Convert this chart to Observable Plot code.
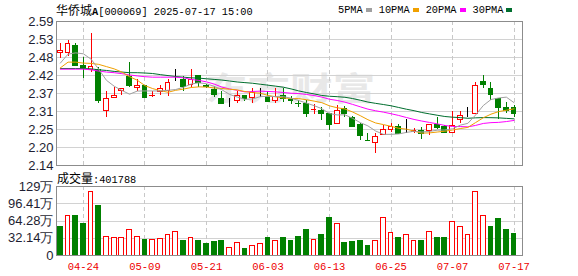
<!DOCTYPE html>
<html><head><meta charset="utf-8">
<script src="https://cdn.jsdelivr.net/npm/d3@7"></script>
<script src="https://cdn.jsdelivr.net/npm/@observablehq/plot@0.6"></script>
<style>
body{margin:0;background:#fff;}
#wrap{position:relative;width:578px;height:276px;overflow:hidden;font-family:"Liberation Sans",Arial,sans-serif;}
#wrap svg{position:absolute;left:0;}
.t{position:absolute;white-space:nowrap;color:#000;}
.cjk{font-family:"Noto Sans CJK SC",sans-serif;font-size:12px;}
.mono{font-family:"Liberation Mono",monospace;font-size:10.3px;}
#legend{position:absolute;left:338px;top:4px;display:flex;align-items:center;}
#legend .sw{display:inline-block;width:6px;height:4px;margin:0 7px 0 3px;}
#wm{position:absolute;left:205px;top:70px;font-family:"Noto Sans CJK SC",sans-serif;font-weight:700;font-size:32px;line-height:32px;color:#e8e8e8;transform:scaleX(1.33);transform-origin:left top;}
</style></head><body><div id="wrap"><div id="wm">东方财富</div></div><script>
// ---- data ----
const dates = ["04-21","04-22","04-23","04-24","04-25","04-28","04-29","04-30","05-06","05-07","05-08","05-09","05-12","05-13","05-14","05-15","05-16","05-19","05-20","05-21","05-22","05-23","05-26","05-27","05-28","05-29","05-30","06-03","06-04","06-05","06-06","06-09","06-10","06-11","06-12","06-13","06-16","06-17","06-18","06-19","06-20","06-23","06-24","06-25","06-26","06-27","06-30","07-01","07-02","07-03","07-04","07-07","07-08","07-09","07-10","07-11","07-14","07-15","07-16","07-17"];
const open = [2.491,2.491,2.512,2.45,2.438,2.437,2.31,2.352,2.374,2.418,
 2.382,2.39,2.356,2.371,2.372,2.402,2.408,2.393,2.421,2.39,
 2.377,2.348,2.335,2.343,2.358,2.352,2.368,2.354,2.342,2.356,
 2.344,2.332,2.331,2.312,2.31,2.3,2.27,2.318,2.289,2.268,
 2.217,2.21,2.234,2.252,2.26,2.24,2.244,2.249,2.247,2.268,
 2.26,2.242,2.283,2.297,2.3,2.4,2.38,2.348,2.32,2.32];
const high = [2.52,2.531,2.52,2.478,2.553,2.447,2.371,2.385,2.379,2.463,
 2.408,2.39,2.371,2.389,2.41,2.439,2.418,2.439,2.421,2.393,
 2.387,2.372,2.348,2.372,2.358,2.38,2.38,2.37,2.38,2.38,
 2.356,2.343,2.343,2.331,2.32,2.3,2.328,2.323,2.293,2.27,
 2.239,2.24,2.265,2.27,2.268,2.283,2.255,2.258,2.268,2.29,
 2.265,2.31,2.31,2.322,2.4,2.421,2.4,2.348,2.338,2.328];
const low = [2.473,2.481,2.45,2.411,2.432,2.333,2.291,2.352,2.359,2.383,
 2.372,2.35,2.352,2.36,2.357,2.402,2.372,2.385,2.385,2.382,
 2.351,2.33,2.322,2.335,2.341,2.333,2.352,2.337,2.333,2.337,
 2.331,2.321,2.291,2.3,2.281,2.25,2.27,2.291,2.258,2.218,
 2.216,2.178,2.234,2.244,2.238,2.24,2.239,2.22,2.234,2.252,
 2.239,2.239,2.27,2.291,2.3,2.38,2.343,2.283,2.302,2.291];
const close = [2.499,2.52,2.45,2.445,2.447,2.341,2.348,2.358,2.379,2.388,
 2.39,2.35,2.358,2.379,2.398,2.402,2.385,2.408,2.399,2.384,
 2.361,2.332,2.335,2.358,2.348,2.367,2.368,2.339,2.355,2.347,
 2.343,2.331,2.3,2.314,2.3,2.267,2.309,2.302,2.26,2.232,
 2.216,2.229,2.25,2.26,2.238,2.24,2.247,2.239,2.268,2.258,
 2.243,2.265,2.296,2.297,2.388,2.391,2.359,2.32,2.31,2.302];
const prevClose0 = 2.505;
const volume = [522000,745000,727000,584000,1192000,919000,354000,317000,317000,478000,
 354000,298000,298000,311000,391000,447000,267000,329000,279000,211000,
 248000,279000,149000,224000,112000,180000,205000,317000,261000,317000,
 279000,354000,484000,292000,373000,708000,578000,230000,248000,279000,
 186000,261000,702000,410000,335000,391000,261000,279000,447000,335000,
 317000,615000,540000,373000,1174000,727000,540000,671000,484000,401788];
// moving-average values before enough closes exist
const ma5Head = [2.460,2.488,2.492,2.489];
const ma10Head = [2.445,2.463,2.463,2.460,2.459,2.456,2.449,2.442,2.432];
const ma20Head = [2.441,2.441,2.441,2.441,2.439,2.435,2.432,2.430,2.427,2.423,2.420,2.4175,2.416,2.416,2.416,2.416,2.414,2.409,2.406];
const ma30Head = [2.443,2.443,2.443,2.443,2.442,2.439,2.437,2.434,2.432,2.430,2.430,2.429,2.4275,2.424,2.421,2.418,2.416,2.414,2.413,2.411,2.409,2.407,2.404,2.401,2.399,2.397,2.394,2.391,2.388];
const maNames = ["5PMA","10PMA","20PMA","30PMA"];
const maColors = ["#a0a0a0","#f0a000","#ff00ff","#006e2e"];
const tickDates = ["04-24","05-09","05-21","06-03","06-13","06-25","07-07","07-17"];
const priceDomain = [2.14, 2.59];
const priceTickLabels = ["2.14","2.20","2.25","2.31","2.37","2.42","2.48","2.53","2.59"];
const volTicks = [0, 321400, 642800, 964100, 1285600];
const volTickLabels = ["0","32.14万","64.28万","96.41万","129万"];
const stock = "华侨城A", code = "000069", stamp = "2025-07-17 15:00";

// ---- derived ----
const RED = "#ff0000", GREEN = "#008000", BLACK = "#000000";
function ma(k, head){ return close.map((_, i) => i < k-1 ? head[i] : d3.mean(close.slice(i-k+1, i+1))); }
const m5 = ma(5, ma5Head), m10 = ma(10, ma10Head), m20 = ma(20, ma20Head), m30 = ma(30, ma30Head);
const rows = dates.map((d, i) => {
  const c = close[i] > open[i] ? RED : close[i] < open[i] ? GREEN : BLACK;
  const pc = i === 0 ? prevClose0 : close[i-1];
  const vc = close[i] >= pc ? RED : GREEN;
  return {i, date: d, open: open[i], high: high[i], low: low[i], close: close[i], vol: volume[i],
    col: c, fillc: c === RED ? "#ffffff" : c, vcol: vc, vfill: vc === RED ? "#ffffff" : vc,
    m5: m5[i], m10: m10[i], m20: m20[i], m30: m30[i]};
});
const tickIdx = tickDates.map(d => dates.indexOf(d));
const priceTicks = d3.range(priceTickLabels.length).map(k => priceDomain[0] + k*(priceDomain[1]-priceDomain[0])/(priceTickLabels.length-1));
const pLab = new Map(priceTicks.map((t,k)=>[t, priceTickLabels[k]]));
const vLab = new Map(volTicks.map((t,k)=>[t, volTickLabels[k]]));
const xDomain = [-0.5, 60.1];
const bw = 0.31;
const crisp = {shapeRendering: "crispEdges"};
const gridH = {stroke: "#d2d2d2", ...crisp};
const gridV = {stroke: "#c8c8c8", strokeDasharray: "4,3", ...crisp};

const price = Plot.plot({
  width: 578, height: 176, marginTop: 21, marginBottom: 11, marginLeft: 56, marginRight: 56,
  x: {domain: xDomain, axis: null},
  y: {domain: priceDomain, axis: null},
  color: {type: "identity"},
  style: {background: "transparent", fontFamily: "Liberation Sans, Arial, sans-serif"},
  marks: [
    Plot.ruleY(priceTicks.slice(1, -1), gridH),
    Plot.ruleX(tickIdx, gridV),
    Plot.ruleX(rows, {x: "i", y1: "low", y2: "high", stroke: "col", ...crisp}),
    Plot.rect(rows, {x1: d => d.i - bw, x2: d => d.i + bw, y1: "open", y2: "close", fill: "fillc", stroke: "col", ...crisp}),
    Plot.line(rows, {x: "i", y: "m30", stroke: maColors[3], strokeWidth: 1}),
    Plot.line(rows, {x: "i", y: "m20", stroke: maColors[2], strokeWidth: 1}),
    Plot.line(rows, {x: "i", y: "m10", stroke: maColors[1], strokeWidth: 1}),
    Plot.line(rows, {x: "i", y: "m5", stroke: maColors[0], strokeWidth: 1}),
    Plot.frame({stroke: "#8c8c8c", ...crisp}),
    Plot.axisY(priceTicks, {tickSize: 0, tickPadding: 3, tickFormat: d => pLab.get(d), fontSize: 13, fill: "#1e1e32", label: null})
  ]
});
price.style.top = "0px";

const vol = Plot.plot({
  width: 578, height: 106, marginTop: 16, marginBottom: 21, marginLeft: 56, marginRight: 56,
  x: {domain: xDomain, axis: null},
  y: {domain: [0, volTicks[volTicks.length-1]], axis: null},
  color: {type: "identity"},
  style: {background: "transparent", fontFamily: "Liberation Sans, Arial, sans-serif"},
  marks: [
    Plot.ruleY(volTicks.slice(1, -1), gridH),
    Plot.ruleX(tickIdx, gridV),
    Plot.rect(rows, {x1: d => d.i - bw, x2: d => d.i + bw, y1: 0, y2: "vol", fill: "vfill", stroke: "vcol", ...crisp}),
    Plot.frame({stroke: "#8c8c8c", ...crisp}),
    Plot.axisY(volTicks, {tickSize: 0, tickPadding: 3, tickFormat: d => vLab.get(d), fontSize: 13, fill: "#1e1e32", label: null}),
    Plot.axisX(tickIdx, {tickSize: 0, tickPadding: 7, tickFormat: i => dates[i], fontSize: 10.5, fontFamily: "Liberation Mono, monospace", fill: "#ee0000", label: null})
  ]
});
vol.style.top = "170px";

const wrap = document.getElementById("wrap");
wrap.appendChild(price);
wrap.appendChild(vol);

const title = document.createElement("div");
title.className = "t";
title.style.left = "56px"; title.style.top = "1px";
title.innerHTML = `<span class="cjk">${stock.slice(0,3)}</span><span class="mono" style="font-weight:bold">${stock.slice(3)}</span><span class="mono">[${code}] ${stamp}</span>`;
wrap.appendChild(title);

const leg = document.createElement("div");
leg.id = "legend";
leg.innerHTML = maNames.map((n,k)=>`<span class="mono">${n}</span><span class="sw" style="background:${maColors[k]}"></span>`).join("");
wrap.appendChild(leg);

const vt = document.createElement("div");
vt.className = "t";
vt.style.left = "57px"; vt.style.top = "169px";
vt.innerHTML = `<span class="cjk">成交量</span><span class="mono">:${volume[volume.length-1]}</span>`;
wrap.appendChild(vt);
</script></body></html>
